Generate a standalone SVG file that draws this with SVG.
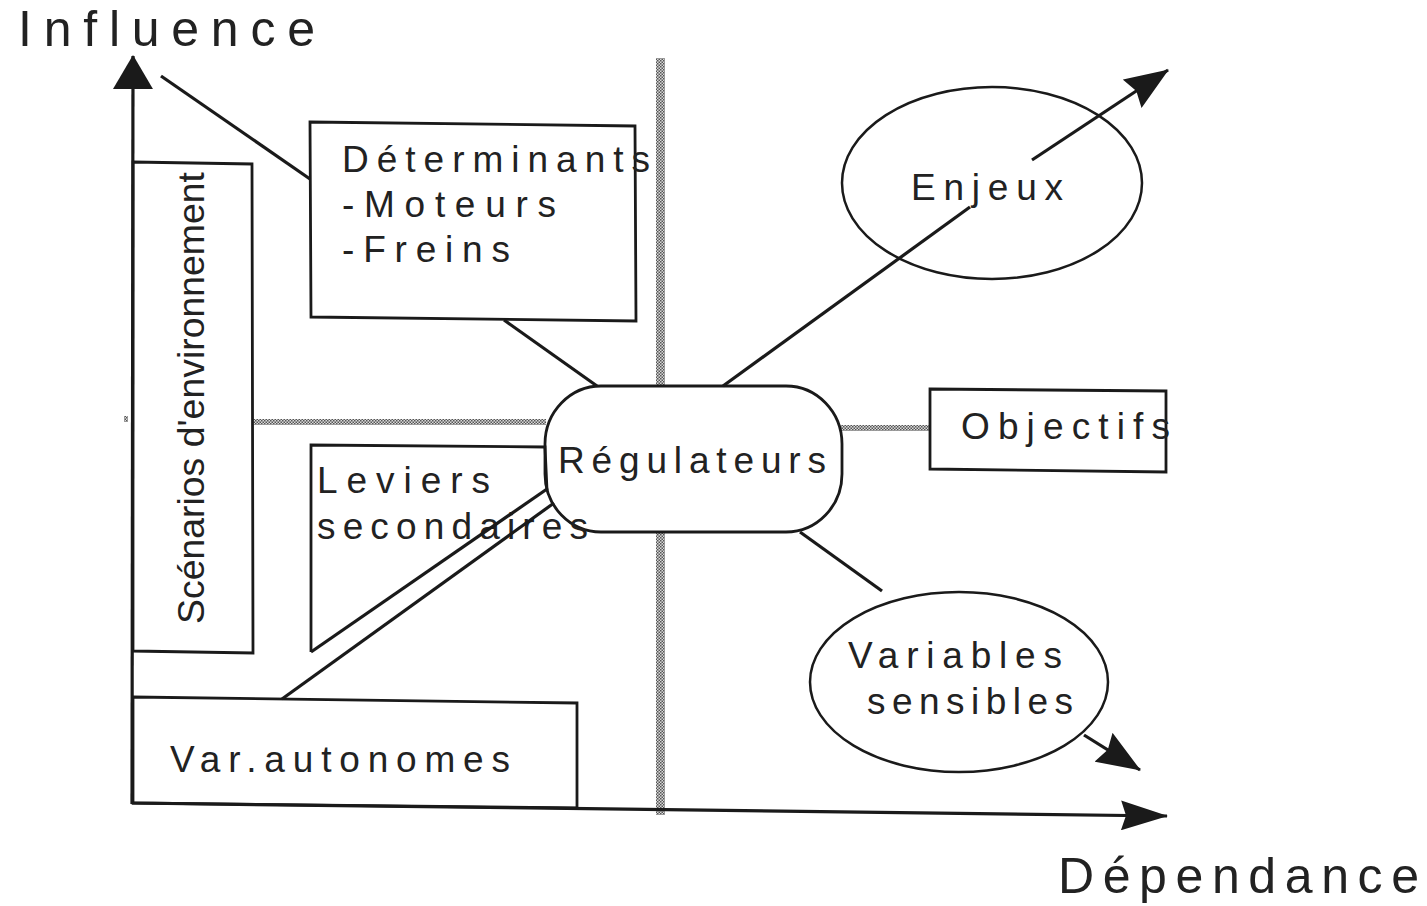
<svg xmlns="http://www.w3.org/2000/svg" width="1427" height="906" viewBox="0 0 1427 906">
  <style>
    .box { fill: #ffffff; stroke: #1a1a1a; stroke-width: 2.8; stroke-linejoin: miter; }
    .ell { fill: none; stroke: #1a1a1a; stroke-width: 2.5; }
    .ln { fill: none; stroke: #1a1a1a; stroke-width: 3.2; stroke-linecap: butt; }
    .lbl { font-family: "Liberation Sans", Arial, sans-serif; font-size: 37px; fill: #222222; }
    .axt { font-family: "Liberation Sans", Arial, sans-serif; font-size: 50px; fill: #222222; }
    .band { fill: url(#hatch); }
  </style>
  <defs>
    <pattern id="hatch" width="3" height="3" patternUnits="userSpaceOnUse">
      <rect width="3" height="3" fill="#d9d9d9"/>
      <rect width="1.5" height="1.5" fill="#555555"/>
      <rect x="1.5" y="1.5" width="1.5" height="1.5" fill="#555555"/>
    </pattern>
    <marker id="arrV" viewBox="0 0 34 40" refX="33" refY="20" markerWidth="34" markerHeight="40" markerUnits="userSpaceOnUse" orient="auto">
      <path d="M0,0 L34,20 L0,40 z" fill="#1a1a1a"/>
    </marker>
    <marker id="arrH" viewBox="0 0 47 30" refX="46" refY="15" markerWidth="47" markerHeight="30" markerUnits="userSpaceOnUse" orient="auto">
      <path d="M0,0 L47,15 L0,30 L5,15 z" fill="#1a1a1a"/>
    </marker>
    <marker id="arrD" viewBox="0 0 44 34" refX="43" refY="17" markerWidth="44" markerHeight="34" markerUnits="userSpaceOnUse" orient="auto">
      <path d="M0,0 L44,17 L0,34 L5,17 z" fill="#1a1a1a"/>
    </marker>
  </defs>

  <rect width="1427" height="906" fill="#ffffff"/>

  <!-- hatched separator bands -->
  <g id="bands">
    <rect class="band" x="656" y="58" width="9" height="757"/>
    <rect class="band" x="254" y="419" width="292" height="6"/>
    <rect class="band" x="124" y="416" width="4" height="6"/>
    <rect class="band" x="840" y="425" width="90" height="6"/>
  </g>

  <!-- nodes -->
  <g id="node-scenarios">
    <polygon class="box" points="133,162 252,164 253,653 133,651"/>
    <text class="lbl" transform="translate(204,624) rotate(-90)" font-size="48" textLength="452" lengthAdjust="spacingAndGlyphs">Scénarios d'environnement</text>
  </g>

  <g id="node-determinants">
    <polygon class="box" points="310,122 635,126 636,321 311,317"/>
    <text class="lbl" x="342" y="172" textLength="308" lengthAdjust="spacing">Déterminants</text>
    <text class="lbl" x="342" y="217" textLength="214" lengthAdjust="spacing">-Moteurs</text>
    <text class="lbl" x="342" y="262" textLength="168" lengthAdjust="spacing">-Freins</text>
  </g>

  <g id="node-var-autonomes">
    <polygon class="box" points="133,697 577,703 577,808 133,803"/>
    <text class="lbl" x="170" y="772" textLength="340" lengthAdjust="spacing">Var.autonomes</text>
  </g>

  <g id="node-regulateurs">
    <rect class="box" x="545" y="386" width="297" height="146" rx="56" ry="58"/>
    <text class="lbl" x="558" y="473" textLength="268" lengthAdjust="spacing">Régulateurs</text>
  </g>

  <g id="node-leviers">
    <polyline class="box" style="fill:none" points="547,490 545,447 311,445 311,652"/>
    <text class="lbl" x="317" y="493" textLength="173" lengthAdjust="spacing">Leviers</text>
    <text class="lbl" x="317" y="539" textLength="271" lengthAdjust="spacing">secondaires</text>
  </g>

  <g id="node-enjeux">
    <ellipse class="ell" cx="992" cy="183" rx="150" ry="96"/>
    <text class="lbl" x="911" y="200" textLength="152" lengthAdjust="spacing">Enjeux</text>
  </g>

  <g id="node-objectifs">
    <polygon class="box" points="930,389 1166,391 1166,472 930,469"/>
    <text class="lbl" x="961" y="439" textLength="209" lengthAdjust="spacing">Objectifs</text>
  </g>

  <g id="node-variables">
    <ellipse class="ell" cx="959" cy="682" rx="149" ry="90"/>
    <text class="lbl" x="848" y="668" textLength="214" lengthAdjust="spacing">Variables</text>
    <text class="lbl" x="867" y="714" textLength="206" lengthAdjust="spacing">sensibles</text>
  </g>

  <!-- connectors -->
  <g id="connectors">
    <path class="ln" d="M132,804 L133,56" marker-end="url(#arrV)"/>
    <path class="ln" d="M132,803 L1167,816" stroke-width="2.6" marker-end="url(#arrH)"/>
    <path class="ln" d="M161,76 L310,179"/>
    <path class="ln" d="M504,320 L597,386"/>
    <path class="ln" d="M723,386 L970,207"/>
    <path class="ln" d="M1032,160 L1168,70" marker-end="url(#arrD)"/>
    <path class="ln" d="M800,532 L882,591"/>
    <path class="ln" d="M1084,735 L1140,770" marker-end="url(#arrD)"/>
    <path class="ln" d="M547,489 L311,652"/>
    <path class="ln" d="M554,503 L282,699"/>
  </g>

  <!-- axis titles -->
  <g id="axis-titles">
    <text class="axt" x="18" y="46" textLength="297" lengthAdjust="spacing">Influence</text>
    <text class="axt" x="1058" y="893" textLength="361" lengthAdjust="spacing">Dépendance</text>
  </g>
</svg>
